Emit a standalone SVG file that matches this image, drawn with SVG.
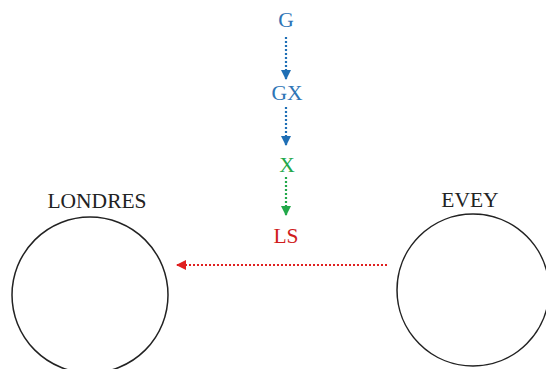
<svg xmlns="http://www.w3.org/2000/svg" width="546" height="369" viewBox="0 0 546 369">
<defs>
<style>
.lbl{font-family:"Liberation Serif","Times New Roman","DejaVu Serif",serif;font-size:21.5px;text-anchor:middle}
.circ{fill:none;stroke:#222;stroke-width:1.5}
.dot{fill:none;stroke-width:2.2;stroke-dasharray:2 2}
</style>
<marker id="ab" markerWidth="10" markerHeight="10" refX="9" refY="5" orient="auto" markerUnits="userSpaceOnUse"><path d="M0,0 L10,5 L0,10 Z" fill="#1f6fb5"/></marker>
<marker id="ag" markerWidth="10" markerHeight="10" refX="9" refY="5" orient="auto" markerUnits="userSpaceOnUse"><path d="M0,0 L10,5 L0,10 Z" fill="#22a84a"/></marker>
<marker id="ar" markerWidth="10" markerHeight="10" refX="9" refY="5" orient="auto" markerUnits="userSpaceOnUse"><path d="M0,0 L10,5 L0,10 Z" fill="#e02020"/></marker>
</defs>
<rect width="546" height="369" fill="#fff"/>
<g id="connectors">
<line class="dot" x1="286" y1="37" x2="286" y2="79" stroke="#1f6fb5" marker-end="url(#ab)"/>
<line class="dot" x1="286" y1="107" x2="286" y2="145" stroke="#1f6fb5" marker-end="url(#ab)"/>
<line class="dot" x1="286" y1="177" x2="286" y2="215" stroke="#22a84a" marker-end="url(#ag)"/>
<line class="dot" x1="387" y1="265" x2="177" y2="265" stroke="#e02020" marker-end="url(#ar)"/>
</g>
<g id="G"><text class="lbl" x="286" y="27" fill="#2e75b6">G</text></g>
<g id="GX"><text class="lbl" x="287" y="100" fill="#2e75b6">GX</text></g>
<g id="X"><text class="lbl" x="287" y="172" fill="#22a84a">X</text></g>
<g id="LS"><text class="lbl" x="286" y="243" fill="#d01c1c">LS</text></g>
<g id="LONDRES"><circle class="circ" cx="90" cy="295" r="78"/><text class="lbl" x="97" y="208" fill="#222">LONDRES</text></g>
<g id="EVEY"><circle class="circ" cx="473" cy="290" r="76"/><text class="lbl" x="470" y="207" fill="#222">EVEY</text></g>
</svg>
